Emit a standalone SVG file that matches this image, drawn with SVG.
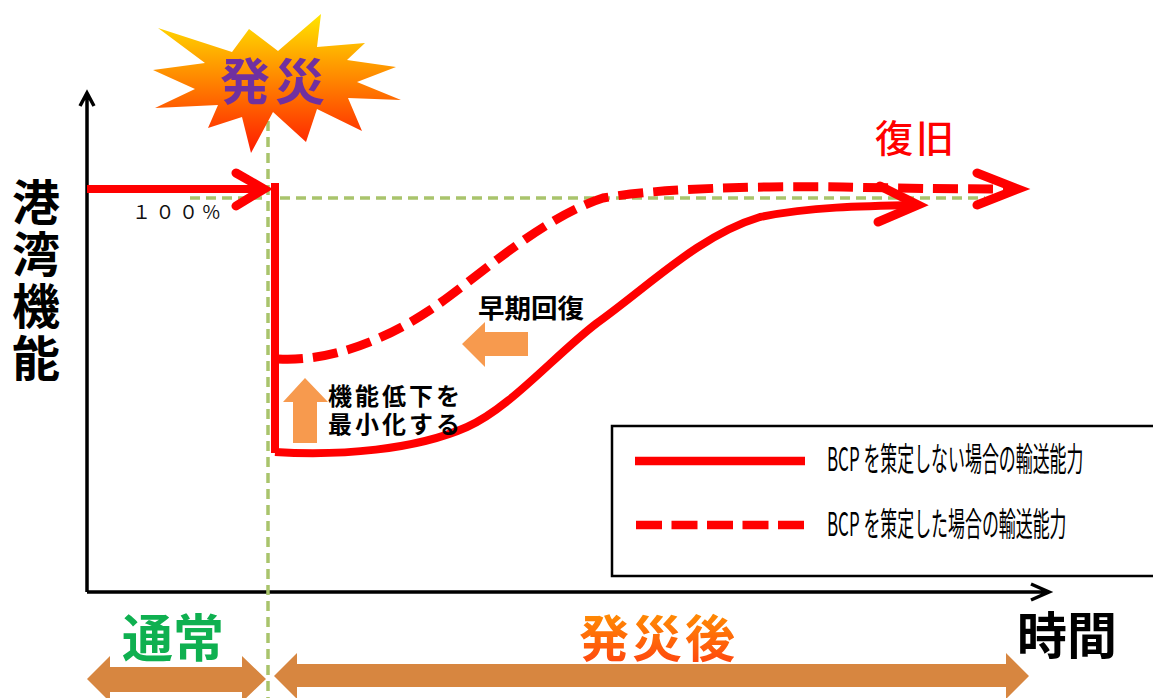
<svg xmlns="http://www.w3.org/2000/svg" width="1153" height="698" viewBox="0 0 1153 698">
<style>
.cjk{font-family:"Noto Sans CJK JP","Liberation Sans",sans-serif}
.b{font-weight:700}
.guide{fill:none;stroke:#a9c46c;stroke-width:3.5;stroke-dasharray:10 6}
.red{fill:none;stroke:#ff0000;stroke-width:8}
.dashed{fill:none;stroke:#ff0000;stroke-width:9;stroke-dasharray:25 10}
.head{fill:none;stroke:#ff0000;stroke-width:9;stroke-linecap:round;stroke-linejoin:miter}
.axis{fill:none;stroke:#000;stroke-width:3.5}
.band{fill:#d78640}
.up{fill:#f79a4e}
.leg{font-size:33px;fill:#000}
</style>
<defs>
<linearGradient id="burst" x1="0" y1="0" x2="0" y2="1"><stop offset="0" stop-color="#ffe600"/><stop offset="1" stop-color="#ff1a00"/></linearGradient>
<linearGradient id="late" x1="0" y1="0" x2="0" y2="1"><stop offset="0" stop-color="#ffa000"/><stop offset="1" stop-color="#ff3c10"/></linearGradient>
</defs>
<g id="connectors">
<path class="axis" d="M87 592V94M80 106L87 93L94 106"/>
<path class="axis" d="M87 592H1048M1031 584L1049 592L1031 600"/>
<path class="guide" d="M268 89V698"/>
<path class="guide" d="M190 198H262M280 198H985"/>
<path class="red" d="M87 189H265"/>
<path class="head" d="M236 173L264 189L236 206"/>
<path class="red" d="M275 183V453"/>
<path class="red" d="M275 452C340 456 415 450 467 427C510 408 555 355 597 323C650 285 700 235 760 217C810 207 860 206 918 205"/>
<path class="head" d="M880 186L918 205L878 222"/>
<path class="dashed" d="M278 359C330 362 385 340 430 310C475 280 540 218 603 198C660 188 760 186 843 187C890 188 950 189 1012 189"/>
<path class="head" d="M977 173L1018 189L977 205"/>
</g>
<g id="burst-node">
<polygon fill="url(#burst)" points="321,14 317,47 365,43 347,60 396,67 357,82 401,100 348,98 362,131 317,109 306,142 273,112 251,153 242,117 208,128 218,105 155,108 195,89 153,70 205,63 158,28 232,52 249,29 278,51"/>
<text class="cjk b" x="220" y="100" font-size="50" letter-spacing="5" fill="#7030a0">発災</text>
</g>
<g id="label-recovery"><text class="cjk" font-weight="500" x="875" y="152" font-size="38" letter-spacing="3" fill="#ff0000">復旧</text></g>
<g id="label-100"><text class="cjk" x="132" y="219" font-size="19" textLength="88" fill="#111">１００%</text></g>
<g id="label-y"><text class="cjk b" writing-mode="vertical-rl" x="36" y="178" font-size="48" letter-spacing="4" fill="#000">港湾機能</text></g>
<g id="arrow-up"><polygon class="up" points="305,378 328,402 317,402 317,443 293,443 293,402 283,402"/></g>
<g id="arrow-left"><polygon class="up" points="462,344 485,322 485,332 528,332 528,356 485,356 485,367"/></g>
<g id="label-min"><text class="cjk b" font-size="24" fill="#000"><tspan x="328" y="405" textLength="132">機能低下を</tspan><tspan x="328" y="433" textLength="132">最小化する</tspan></text></g>
<g id="label-early"><text class="cjk b" x="478" y="318" font-size="26.5" fill="#000">早期回復</text></g>
<g id="legend">
<rect x="612" y="426" width="560" height="150" fill="#fff" stroke="#000" stroke-width="2.5"/>
<path fill="none" stroke="#ff0000" stroke-width="8.5" d="M635 461H805"/>
<path fill="none" stroke="#ff0000" stroke-width="8.5" stroke-dasharray="26 9.5" d="M636 525H804"/>
<text class="cjk leg" transform="translate(827 471) scale(.513 1)">BCP を策定しない場合の輸送能力</text>
<text class="cjk leg" transform="translate(827 536) scale(.513 1)">BCP を策定した場合の輸送能力</text>
</g>
<g id="label-time"><text class="cjk b" x="1017" y="654" font-size="50" fill="#000">時間</text></g>
<g id="label-normal"><text class="cjk b" x="122" y="657" font-size="51" fill="#0fb050">通常</text></g>
<g id="label-after"><text class="cjk b" x="579" y="657" font-size="50" letter-spacing="3" fill="url(#late)">発災後</text></g>
<g id="band-normal"><polygon class="band" points="87,679 110,656 110,667 242,667 242,656 266,679 242,702 242,692 110,692 110,702"/></g>
<g id="band-after"><polygon class="band" points="274,676 297,653 297,664 1006,664 1006,653 1029,676 1006,699 1006,687 297,687 297,699"/></g>
</svg>
